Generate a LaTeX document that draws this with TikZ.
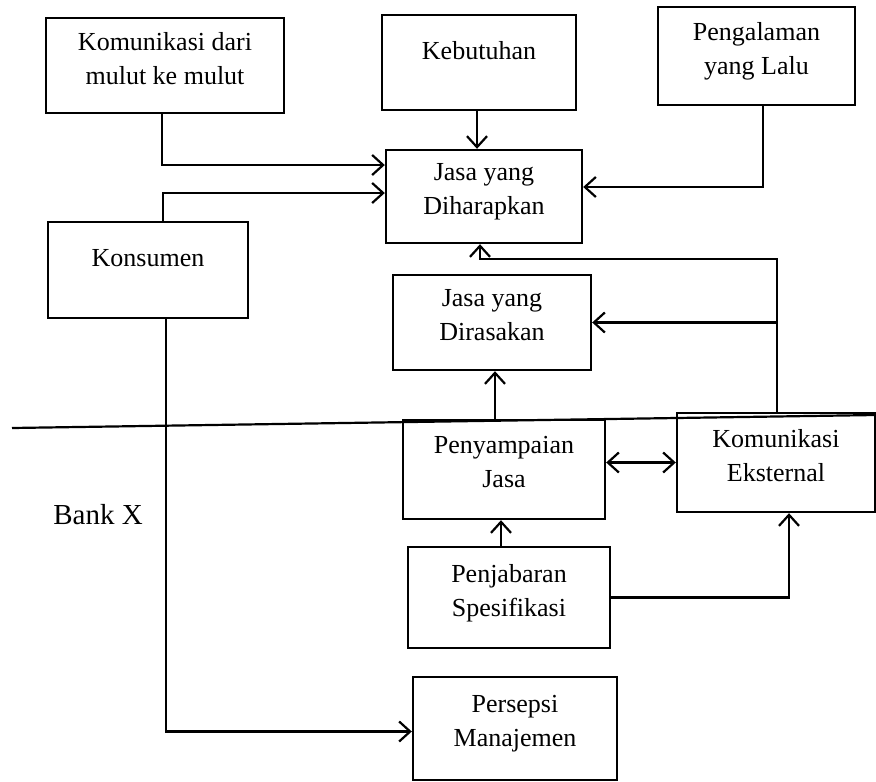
\documentclass[tikz,border=0pt]{standalone}
\usepackage{fontspec}
\setmainfont{Liberation Serif}
\usetikzlibrary{arrows.meta}

\begin{document}
\begin{tikzpicture}[x=1pt,y=-1pt,
  kotak/.style={draw,line width=2.4pt,align=center,inner sep=0pt,
    font=\fontsize{26}{34}\selectfont,text depth=15pt},
  satubaris/.style={kotak,text height=18pt,text depth=25pt},
  panah/.style={line width=2.2pt,-{Straight Barb[length=11pt,width=20pt]}},
  panahdua/.style={line width=2.2pt,
    {Straight Barb[length=11pt,width=20pt]}-{Straight Barb[length=11pt,width=20pt]}}]
\useasboundingbox (0,0) rectangle (876,782);
    % Kotak-kotak di atas garis
\node[kotak,minimum width=238,minimum height=95] (mulut) at (165,65.5) {Komunikasi dari\\mulut ke mulut};
\node[satubaris,minimum width=194,minimum height=95] (butuh) at (479,62.5) {Kebutuhan};
\node[kotak,minimum width=197,minimum height=98] (alami) at (756.5,56) {Pengalaman\\yang Lalu};
\node[kotak,minimum width=196,minimum height=93] (harap) at (484,196.5) {Jasa yang\\Diharapkan};
\node[satubaris,minimum width=200,minimum height=96] (konsumen) at (148,270) {Konsumen};
\node[kotak,minimum width=198,minimum height=95] (rasa) at (492,322.5) {Jasa yang\\Dirasakan};
    % Garis batas dan Bank X
\draw[line width=2.2pt] (12,428) -- (876,415);
\node[font=\fontsize{29}{34}\selectfont] (bank) at (98,515) {Bank X};
    % Kotak-kotak di bawah garis
\node[kotak,minimum width=202,minimum height=99] (sampai) at (504,469.5) {Penyampaian\\Jasa};
\node[kotak,minimum width=198,minimum height=99] (ekstern) at (776,462.5) {Komunikasi\\Eksternal};
\node[kotak,minimum width=202,minimum height=101] (jabar) at (509,597.5) {Penjabaran\\Spesifikasi};
\node[kotak,minimum width=204,minimum height=103] (persepsi) at (515,728.5) {Persepsi\\Manajemen};
    % Panah
\draw[panah] ([xshift=-3pt]mulut.south) |- ([yshift=31.5pt]harap.west);
\draw[panah] ([xshift=15pt]konsumen.north) |- ([yshift=3.5pt]harap.west);
\draw[panah] ([xshift=-2pt]butuh.south) -- ([xshift=-2pt]butuh.south |- harap.north);
\draw[panah] ([xshift=6.5pt]alami.south) |- ([yshift=9.5pt]harap.east);
\draw[panah] ([xshift=1pt]ekstern.north) |- ([xshift=-4pt,yshift=-15pt]harap.south) -- ([xshift=-4pt]harap.south);
\draw[panah] ([xshift=1pt]ekstern.north |- rasa.east) -- (rasa.east);
\draw[panah] ([xshift=-9pt]sampai.north) -- ([xshift=-9pt]sampai.north |- rasa.south);
\draw[panahdua] ([yshift=7pt]sampai.east) -- (ekstern.west);
\draw[panah] ([xshift=-8pt]jabar.north) -- ([xshift=-8pt]jabar.north |- sampai.south);
\draw[panah] (jabar.east) -| ([xshift=13pt]ekstern.south);
\draw[panah] ([xshift=18pt]konsumen.south) |- ([yshift=-3pt]persepsi.west);
\end{tikzpicture}
\end{document}
